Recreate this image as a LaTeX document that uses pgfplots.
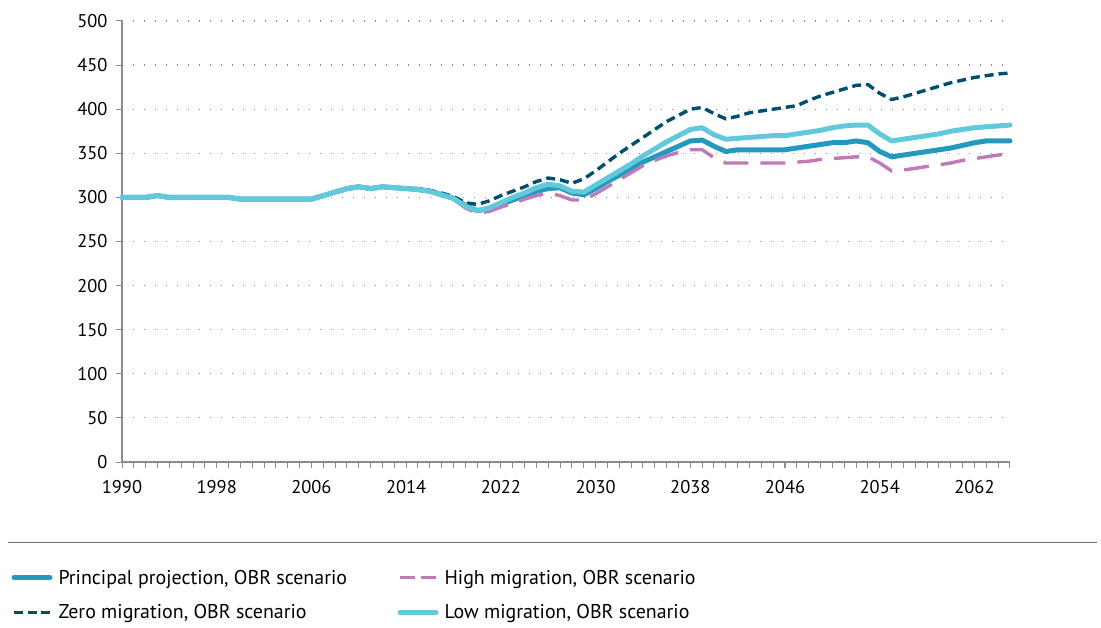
\documentclass[border=0pt]{standalone}
\usepackage{pgfplots}
\pgfplotsset{compat=1.18}
\usepackage{pgfplotstable}
\usepackage{fontspec}
\setmainfont{PT Sans}
\definecolor{princ}{HTML}{2499BE}
\definecolor{zero}{HTML}{004E6E}
\definecolor{high}{HTML}{C07AB8}
\definecolor{low}{HTML}{62C8DC}
\definecolor{axisgray}{HTML}{8C8C8C}
\pgfplotstableread{
year P Z H L
1990 300 300 300 300
1991 300 300 300 300
1992 300 300 300 300
1993 302 302 302 302
1994 300 300 300 300
1995 300 300 300 300
1996 300 300 300 300
1997 300 300 300 300
1998 300 300 300 300
1999 300 300 300 300
2000 298 298 298 298
2001 298 298 298 298
2002 298 298 298 298
2003 298 298 298 298
2004 298 298 298 298
2005 298 298 298 298
2006 298 298 298 298
2007 302 302 302 302
2008 306 306 306 306
2009 310 310 310 310
2010 312 312 312 312
2011 310 310 310 310
2012 312 312 312 312
2013 311 311 311 311
2014 310 310 310 310
2015 309 310 309 309
2016 307 308 307 307
2017 303 305 303 303
2018 299 301 298 299
2019 291 294 288 290
2020 285 292 282 285
2021 287 296 284 288
2022 292 302 289 294
2023 297 307 293 300
2024 302 312 298 305
2025 307 318 302 311
2026 310 322 305 315
2027 311 320 302 313
2028 305 316 297 307
2029 303 321 297 306
2030 310 330 304 314
2031 318 340 312 322
2032 325 350 320 330
2033 332 359 328 338
2034 340 368 336 347
2035 346 377 342 355
2036 352 386 347 363
2037 358 393 351 370
2038 364 400 354 377
2039 365 402 354 379
2040 358 395 345 371
2041 352 389 339 366
2042 354 392 339 367
2043 354 396 339 368
2044 354 398 339 369
2045 354 400 339 370
2046 354 402 339 370
2047 356 404 340 372
2048 358 410 341 374
2049 360 415 343 376
2050 362 419 344 379
2051 362 423 345 381
2052 364 427 346 382
2053 362 428 346 382
2054 352 418 339 372
2055 346 411 330 364
2056 348 414 331 366
2057 350 418 333 368
2058 352 422 335 370
2059 354 426 337 372
2060 356 430 339 375
2061 359 433 342 377
2062 362 436 344 379
2063 364 438 346 380
2064 364 440 348 381
2065 364 441 350 382
}\datatable
\begin{document}
\begin{tikzpicture}
\useasboundingbox (0bp,0bp) rectangle (1101bp,628bp);
\draw[color=axisgray!80!black, line width=1bp] (8bp,85bp) -- (1097bp,85bp);
\begin{axis}[
  at={(122bp,166bp)}, anchor=south west,
  scale only axis, width=888bp, height=441bp,
  xmin=1990, xmax=2065, ymin=0, ymax=500,
  ytick={0,50,...,500},
  xtick={1990,1998,...,2062},
  minor xtick={1990,...,2065},
  axis lines*=left,
  axis line style={axisgray, line width=1.6bp},
  tick align=outside,
  major tick length=6bp, minor tick length=6bp,
  tick style={axisgray, line width=1bp},
  ymajorgrids,
  grid style={axisgray, line width=1.2bp, dash pattern=on 1.2bp off 9.8bp},
  /pgf/number format/assume math mode=true,
  /pgf/number format/set thousands separator={},
  ticklabel style={font=\fontsize{18.5}{18.5}\selectfont, text=black},
  xticklabel style={yshift=-9bp},
  yticklabel style={xshift=-5bp},
  clip=false,
  legend columns=2,
  legend cell align=left,
  legend style={draw=none, fill=none, anchor=west,
    at={(axis description cs:-0.128,-0.3016)},
    font=\fontsize{20}{20}\selectfont,
    /tikz/every odd column/.append style={column sep=4bp},
    /tikz/every even column/.append style={column sep=48.5bp},
    row sep=15bp},
  legend image code/.code={\draw[#1] (0bp,0bp) -- (36bp,0bp);},
]
\addplot[princ, line width=5bp, line join=round, line cap=round, forget plot] table[x=year,y=P] {\datatable};
\addplot[high, line width=3.4bp, dash pattern=on 25bp off 12bp, line join=round, forget plot] table[x=year,y=H] {\datatable};
\addplot[zero, line width=3.4bp, dash pattern=on 9bp off 5bp, line join=round, forget plot] table[x=year,y=Z] {\datatable};
\addplot[low, line width=5bp, line join=round, line cap=round, forget plot] table[x=year,y=L] {\datatable};
\addlegendimage{princ, line width=5bp, line cap=round}
\addlegendentry{Principal projection, OBR scenario}
\addlegendimage{high, line width=3.4bp, dash pattern=on 15bp off 6bp}
\addlegendentry{High migration, OBR scenario}
\addlegendimage{zero, line width=3.4bp, dash pattern=on 9bp off 4.5bp}
\addlegendentry{Zero migration, OBR scenario}
\addlegendimage{low, line width=5bp, line cap=round}
\addlegendentry{Low migration, OBR scenario}
\end{axis}
\end{tikzpicture}
\end{document}
